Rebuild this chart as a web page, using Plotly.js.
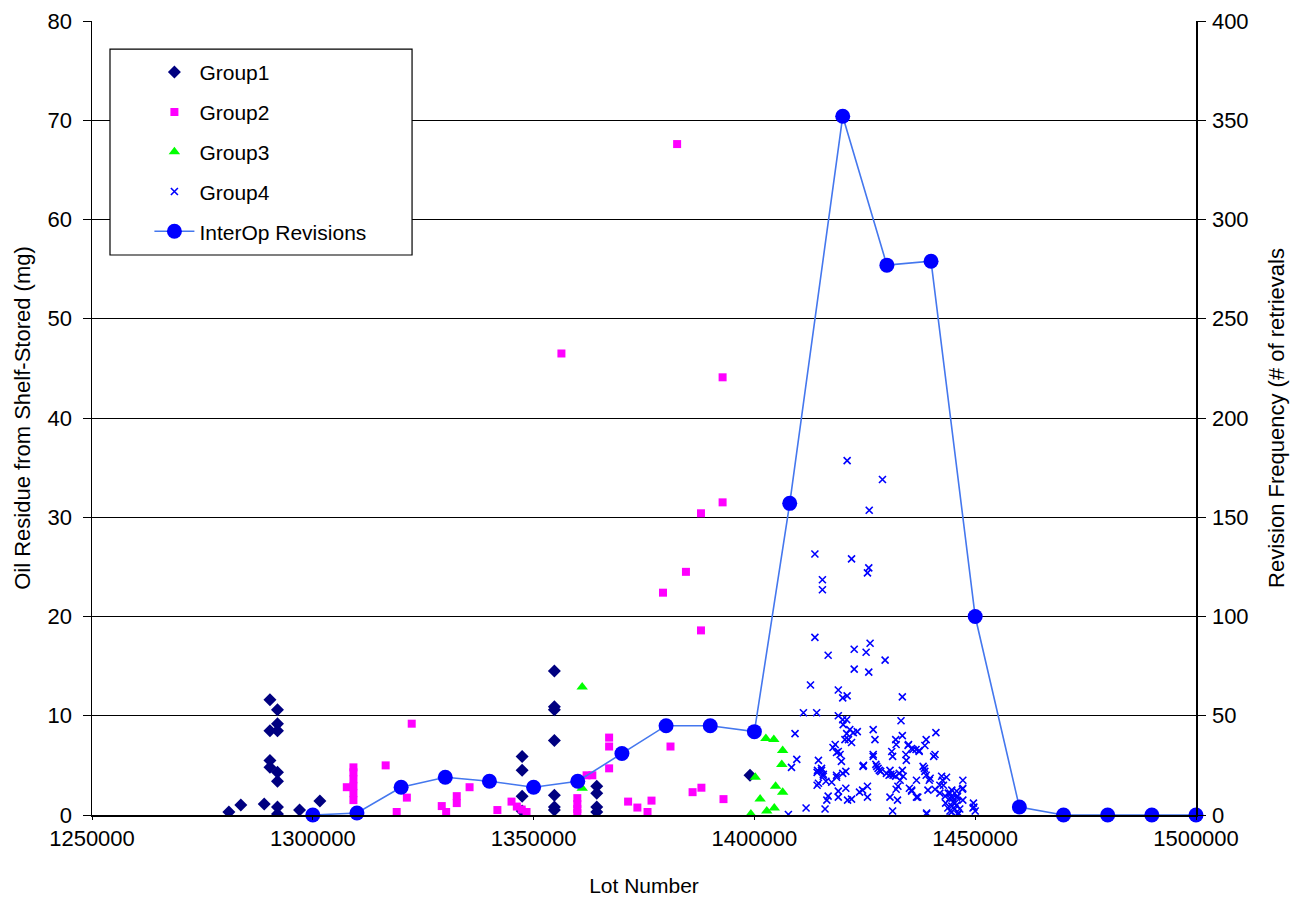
<!DOCTYPE html>
<html><head><meta charset="utf-8">
<script src="https://cdn.plot.ly/plotly-3.0.1.min.js"></script>
<style>html,body{margin:0;padding:0;background:#fff;}#chart{width:1291px;height:897px;}</style>
</head><body><div id="chart"></div>
<script>
// ---- Data ----
const g1x = [1281000,1283700,1289000,1290300,1292000,1292000,1290300,1292000,1290300,1290300,1292000,1292000,1292000,1292000,1297000,1301600,
  1347400,1347400,1347400,1347400,1354700,1354700,1354700,1354700,1354700,1354700,1354700,1364300,1364300,1364300,1364300,1399000];
const g1y = [0.3,1.0,1.1,11.6,10.6,9.2,8.5,8.5,5.5,4.8,4.3,3.4,0.8,0.1,0.5,1.4,
  5.9,4.5,1.9,0.4,14.5,10.9,10.6,7.5,2.0,0.8,0.5,2.9,2.2,0.8,0.3,4.0];

const g2x = [1307700,1309200,1309200,1309200,1309200,1309200,1309200,1316500,1319000,1321300,1322400,1329200,1330200,1332600,1332600,1335500,
  1341800,1345000,1346200,1347300,1348400,1356300,1359900,1359900,1359900,1359900,1362000,1363300,1367100,1367100,1367100,1371400,1373500,
  1375800,1376700,1379300,1381000,1382500,1384500,1386000,1388000,1387900,1387900,1392800,1392800,1393000];
const g2y = [2.8,4.8,4.3,3.6,2.9,2.2,1.5,5.0,0.3,1.75,9.2,0.9,0.3,1.9,1.2,2.8,
  0.5,1.35,0.85,0.55,0.3,46.5,1.7,1.1,0.6,0.2,4.0,4.0,7.8,6.9,4.7,1.35,0.75,
  0.3,1.45,22.4,6.9,67.6,24.5,2.3,2.75,30.4,18.6,44.1,31.5,1.6];

const g3x = [1361000,1361000,1402600,1404400,1406400,1406200,1400200,1404800,1406400,1401300,1402800,1404500,1399200];
const g3y = [12.9,2.7,7.7,7.6,6.5,5.1,3.8,2.9,2.3,1.6,0.4,0.7,0.1];

const g4x = [1421000,1429000,1426000,1413700,1422000,1415400,1415400,1425900,1425600,1413700,1416700,1422600,1426200,1425300,1429600,
  1422600,1425900,1412700,1419000,1420000,1421000,1433500,1411100,1414100,1419000,1420000,1420900,1433200,1420100,1409200,
  1426900,1427300,1420900,1422400,1423300,1441100,1421300,1422000,1418300,1418600,1419400,1432000,1432100,1433500,1434900,
  1435600,1436600,1437300,1438900,1438600,1440900,1434300,1431100,1431300,1426900,1427500,1428300,1424700,1419700,1414500,
  1409600,1408400,1414300,1415200,1415600,1414500,1416200,1417500,1418600,1420000,1420700,1416700,1416400,1416000,1411700,
  1407700,1419000,1419000,1420700,1421100,1422000,1423800,1424500,1425600,1425600,1428000,1428600,1430500,1430900,1432000,
  1432800,1433500,1433700,1433000,1430700,1432100,1432400,1431300,1435100,1435600,1436700,1437000,1438500,1438600,1438900,
  1439800,1439600,1440900,1439000,1442400,1442600,1442800,1442000,1443200,1443900,1444700,1444300,1445000,1443300,1444700,
  1445800,1445400,1444300,1446200,1447200,1447200,1447200,1446000,1449600,1449700,1450000,
  1418600,1415200,1415600,1417800,1419000,1420500,1426900,1424600,1427700,1429900,1421600,1434800,1435900,1437300,1440600,
  1434400,1430700,1431400,1438200,1443500,1447100,1432500,1435600,1439300,1442000,1444300,1445800,1436700,1439000,1449500,
  1444700,1446100,1445400,1443800,1446500,1444900,1445800,1414200,1414200];
const g4y = [35.7,33.8,30.7,26.3,25.8,23.7,22.7,24.9,24.4,17.9,16.1,16.7,17.3,16.4,15.6,
  14.7,14.4,13.1,12.6,11.8,12.0,11.9,10.3,10.3,10.0,9.6,9.6,9.5,9.1,8.2,
  8.6,7.6,8.2,8.3,8.4,8.3,7.6,7.3,7.1,6.3,6.1,7.6,7.1,8.0,7.1,
  6.7,6.6,6.4,7.6,7.0,6.1,6.1,6.4,5.9,6.1,5.1,4.5,5.0,5.4,5.5,
  5.6,4.8,4.5,4.5,4.1,3.2,3.4,3.3,3.8,4.2,4.4,1.9,1.5,0.6,0.7,
  0.05,2.4,1.8,2.7,1.5,1.6,2.3,2.5,2.9,1.8,4.7,4.4,4.0,4.1,3.9,
  4.2,4.5,3.9,3.5,1.8,2.6,1.5,0.4,2.7,2.5,3.5,1.8,4.7,4.4,4.0,
  3.7,3.5,2.6,0.2,3.9,3.5,3.0,2.2,1.9,2.2,2.5,1.7,1.3,1.2,0.9,
  1.0,0.6,0.4,0.2,3.5,2.7,1.5,1.9,1.2,0.8,0.4,
  4.0,4.7,3.9,6.8,6.4,7.6,5.9,4.9,4.9,4.2,8.6,7.0,6.6,6.5,5.9,
  5.5,4.5,4.0,4.9,3.8,2.6,2.9,2.4,2.5,3.0,2.2,1.8,1.8,0.1,0.7,
  0.3,0.05,1.2,0.7,0.6,1.7,2.4,4.3,3.0];

const revX = [1300000,1310000,1320000,1330000,1340000,1350000,1360000,1370000,1380000,1390000,1400000,1408000,
  1420000,1430000,1440000,1450000,1460000,1470000,1480000,1490000,1500000];
const revY = [0,1,14,19,17,14,17,31,45,45,42,157,352,277,279,100,4,0,0,0,0];

const seriesNames = ['Group1','Group2','Group3','Group4','InterOp Revisions'];
const xTitle = 'Lot Number';
const yTitle = 'Oil Residue from Shelf-Stored (mg)';
const y2Title = 'Revision Frequency (# of retrievals';

// ---- Chart ----
const FONT = 'Liberation Sans, Arial, sans-serif';
const traces = [
  {x:g1x, y:g1y, name:seriesNames[0], legendgroup:'g1', type:'scatter', mode:'markers',
   marker:{symbol:'diamond', color:'#000080', size:10}},
  {x:g2x, y:g2y, name:seriesNames[1], legendgroup:'g2', type:'scatter', mode:'markers',
   marker:{symbol:'square', color:'#FF00FF', size:8}},
  {x:g3x, y:g3y, name:seriesNames[2], legendgroup:'g3', type:'scatter', mode:'markers',
   marker:{symbol:'triangle-up', color:'#00FF00', size:10}},
  {x:g4x, y:g4y, name:seriesNames[3], legendgroup:'g4', type:'scatter', mode:'markers',
   marker:{symbol:'x-thin', color:'#0000FF', size:7, line:{color:'#0000FF', width:1.6}}},
  {x:revX, y:revY, name:seriesNames[4], legendgroup:'g5', type:'scatter', mode:'lines+markers', yaxis:'y2', cliponaxis:false,
   line:{color:'#4477EE', width:1.6}, marker:{symbol:'circle', color:'#0000FF', size:15}}
];

const layout = {
  width:1291, height:897,
  paper_bgcolor:'#fff', plot_bgcolor:'#fff',
  margin:{l:92, r:95, t:21, b:82},
  font:{family:FONT, size:21, color:'#000'},
  showlegend:true,
  legend:{x:0.052, y:0.961, xanchor:'left', yanchor:'top', bgcolor:'rgba(0,0,0,0)', borderwidth:0,
    font:{family:FONT, size:21, color:'#000'}, traceorder:'grouped', tracegroupgap:9.5, itemwidth:40},
  xaxis:{range:[1250000,1500000], tick0:1250000, dtick:50000, tickformat:'d', showgrid:false, zeroline:false,
    showline:true, linecolor:'#000', linewidth:1.5, ticks:'outside', ticklen:3, tickcolor:'#000',
    tickfont:{family:FONT, size:22}, title:{text:xTitle, font:{family:FONT, size:21}, standoff:30}, automargin:false},
  yaxis:{range:[0,80], dtick:10, showgrid:true, gridcolor:'#000', gridwidth:1, zeroline:false,
    showline:true, linecolor:'#000', linewidth:1.5, ticks:'outside', ticklen:8, tickcolor:'#000', ticklabelstandoff:6,
    tickfont:{family:FONT, size:22}, title:{text:yTitle, font:{family:FONT, size:22}, standoff:11}, automargin:false},
  yaxis2:{range:[0,400], dtick:50, overlaying:'y', side:'right', showgrid:false, zeroline:false,
    showline:true, linecolor:'#000', linewidth:1.5, ticks:'outside', ticklen:8, tickcolor:'#000', ticklabelstandoff:2,
    tickfont:{family:FONT, size:22}, title:{text:y2Title, font:{family:FONT, size:22}, standoff:21}, automargin:false},
  shapes:[{type:'rect', xref:'paper', yref:'paper', x0:0.0163, x1:0.2899, y0:0.7053, y1:0.9647,
    fillcolor:'#fff', line:{color:'#000', width:1.2}, layer:'above'}]
};

Plotly.newPlot('chart', traces, layout, {staticPlot:true});
</script></body></html>
